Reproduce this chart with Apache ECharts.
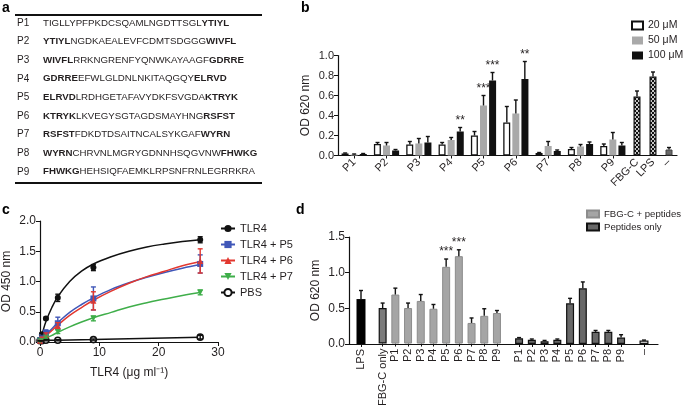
<!DOCTYPE html>
<html>
<head>
<meta charset="utf-8">
<script src="https://cdn.jsdelivr.net/npm/echarts@6/dist/echarts.min.js"></script>
<style>
html, body { margin: 0; padding: 0; background: #fff; }
#main { width: 685px; height: 409px; }
</style>
</head>
<body>
<div id="main"></div>
<script>
// ---------- data ----------
// panel a: peptide sequences as [bold head, plain middle, bold tail]
var peptideNames = ['P1', 'P2', 'P3', 'P4', 'P5', 'P6', 'P7', 'P8', 'P9'];
var peptideSeqs = [
    ['', 'TIGLLYPFPKDCSQAMLNGDTTSGL', 'YTIYL'],
    ['YTIYL', 'NGDKAEALEVFCDMTSDGGG', 'WIVFL'],
    ['WIVFL', 'RRKNGRENFYQNWKAYAAGF', 'GDRRE'],
    ['GDRRE', 'EFWLGLDNLNKITAQGQY', 'ELRVD'],
    ['ELRVD', 'LRDHGETAFAVYDKFSVGDA', 'KTRYK'],
    ['KTRYK', 'LKVEGYSGTAGDSMAYHNG', 'RSFST'],
    ['RSFST', 'FDKDTDSAITNCALSYKGAF', 'WYRN'],
    ['WYRN', 'CHRVNLMGRYGDNNHSQGVNW', 'FHWKG'],
    ['FHWKG', 'HEHSIQFAEMKLRPSNFRNLEGRRKRA', '']
];

// panel b: OD 620 nm by peptide and dose
var bCats = ['P1', 'P2', 'P3', 'P4', 'P5', 'P6', 'P7', 'P8', 'P9'];
var b20 = [0.02, 0.115, 0.11, 0.11, 0.20, 0.33, 0.025, 0.065, 0.095];
var b20Err = [0.005, 0.015, 0.03, 0.02, 0.04, 0.16, 0.005, 0.015, 0.02];
var b50 = [0.01, 0.10, 0.12, 0.155, 0.50, 0.42, 0.095, 0.09, 0.16];
var b50Err = [0.005, 0.03, 0.05, 0.025, 0.10, 0.135, 0.045, 0.02, 0.07];
var b100 = [0.015, 0.05, 0.13, 0.24, 0.75, 0.765, 0.045, 0.115, 0.10];
var b100Err = [0.005, 0.01, 0.06, 0.04, 0.08, 0.175, 0.01, 0.02, 0.03];
var bCtrlCats = ['FBG-C', 'LPS', '–'];
var bCtrl = [0.59, 0.79, 0.06];
var bCtrlErr = [0.055, 0.045, 0.02];
var bStars = [[3, 2, '**'], [4, 1, '***'], [4, 2, '***'], [5, 2, '**']]; // [peptide, dose, mark]

// panel c: binding curves
var cX = [0, 0.33, 1, 3, 9, 27];
var cTLR4 = [0.03, 0.13, 0.39, 0.73, 1.23, 1.69];
var cTLR4Err = [0.01, 0.02, 0.02, 0.06, 0.05, 0.05];
var cP5 = [0.03, 0.08, 0.15, 0.31, 0.72, 1.29];
var cP5Err = [0.01, 0.02, 0.05, 0.10, 0.19, 0.15];
var cP6 = [0.02, 0.06, 0.12, 0.27, 0.68, 1.34];
var cP6Err = [0.01, 0.02, 0.03, 0.05, 0.15, 0.20];
var cP7 = [0.02, 0.04, 0.08, 0.17, 0.39, 0.82];
var cP7Err = [0.01, 0.01, 0.02, 0.03, 0.04, 0.04];
var cPBS = [0.02, 0.02, 0.03, 0.03, 0.04, 0.08];
var cPBSErr = [0, 0, 0.01, 0.01, 0.01, 0.03];
// fitted curves
var fitX = [0, 0.5, 1, 2, 3, 5, 7, 9, 12, 15, 18, 21, 24, 27];
var fitTLR4 = [0, 0.18, 0.34, 0.57, 0.75, 1.0, 1.17, 1.29, 1.41, 1.5, 1.57, 1.62, 1.66, 1.69];
var fitP5 = [0, 0.06, 0.12, 0.22, 0.32, 0.49, 0.62, 0.73, 0.87, 0.98, 1.07, 1.15, 1.22, 1.28];
var fitP6 = [0, 0.05, 0.10, 0.19, 0.28, 0.44, 0.57, 0.69, 0.84, 0.97, 1.08, 1.17, 1.26, 1.33];
var fitP7 = [0, 0.03, 0.06, 0.11, 0.16, 0.25, 0.33, 0.40, 0.49, 0.58, 0.65, 0.71, 0.77, 0.82];

// panel d: OD 620 nm
var dLPS = 0.63, dLPSErr = 0.12;
var dFbgOnly = 0.50, dFbgOnlyErr = 0.07;
var dPepCats = ['P1', 'P2', 'P3', 'P4', 'P5', 'P6', 'P7', 'P8', 'P9'];
var dFbgPep = [0.69, 0.50, 0.60, 0.49, 1.08, 1.23, 0.29, 0.39, 0.43];
var dFbgPepErr = [0.09, 0.07, 0.09, 0.06, 0.11, 0.09, 0.07, 0.10, 0.035];
var dPepOnly = [0.08, 0.06, 0.04, 0.06, 0.57, 0.78, 0.17, 0.17, 0.09];
var dPepOnlyErr = [0.01, 0.01, 0.01, 0.01, 0.07, 0.09, 0.02, 0.02, 0.04];
var dNone = 0.05, dNoneErr = 0.005;
var dStars = [[4, '***'], [5, '***']]; // [peptide index, mark]

// ---------- helpers ----------
var FONT = '"Liberation Sans", Arial, sans-serif';
var TXT = '#231f20';
var chart = echarts.init(document.getElementById('main'));

// checkerboard fill for FBG-C / LPS bars
var pat = document.createElement('canvas');
pat.width = 4; pat.height = 4;
var pc = pat.getContext('2d');
pc.fillStyle = '#c8c8c8'; pc.fillRect(0, 0, 4, 4);
pc.fillStyle = '#111'; pc.fillRect(0, 0, 2, 2); pc.fillRect(2, 2, 2, 2);

function errSeries(xi, vals, errs, opt) {
    opt = opt || {};
    var dx = opt.dx || 0, w = opt.cap || 2, both = !!opt.both, col = opt.color || '#111';
    return {
        type: 'custom', xAxisIndex: xi, yAxisIndex: xi, z: 5, silent: true,
        data: vals.map(function (v, i) { return [opt.xs ? opt.xs[i] : i, v, errs[i]]; }),
        renderItem: function (params, api) {
            var x = api.value(0), y = api.value(1), e = api.value(2);
            var hi = api.coord([x, y + e]);
            var lo = api.coord([x, both ? y - e : y]);
            var cx = hi[0] + dx;
            var st = { stroke: col, lineWidth: 1.4 };
            var ch = [
                { type: 'line', shape: { x1: cx, y1: hi[1], x2: cx, y2: lo[1] }, style: st },
                { type: 'line', shape: { x1: cx - w, y1: hi[1], x2: cx + w, y2: hi[1] }, style: st }
            ];
            if (both) ch.push({ type: 'line', shape: { x1: cx - w, y1: lo[1], x2: cx + w, y2: lo[1] }, style: st });
            return { type: 'group', children: ch };
        }
    };
}

function starSeries(xi, items, dx) {
    return {
        type: 'custom', xAxisIndex: xi, yAxisIndex: xi, z: 6, silent: true,
        data: items.map(function (s) { return [s[0], s[1]]; }),
        renderItem: function (params, api) {
            var p = api.coord([api.value(0), api.value(1)]);
            return {
                type: 'text', x: p[0] + (dx ? dx(params.dataIndex) : 0), y: p[1] - 7,
                style: { text: items[params.dataIndex][2], align: 'center', verticalAlign: 'middle',
                         font: '12px ' + FONT, fill: TXT }
            };
        }
    };
}

var axisLine = { show: true, lineStyle: { color: '#111', width: 1.2 } };
var axisLabel = { color: TXT, fontFamily: FONT, fontSize: 11 };
function catAxis(grid, data, extra) {
    return Object.assign({
        type: 'category', gridIndex: grid, data: data,
        axisLine: axisLine,
        axisTick: { show: true, alignWithLabel: true, length: 3, lineStyle: { color: '#111' } },
        axisLabel: Object.assign({}, axisLabel, { margin: 5, interval: 0 }),
        splitLine: { show: false }
    }, extra || {});
}
function valAxis(grid, min, max, step, extra) {
    return Object.assign({
        type: 'value', gridIndex: grid, min: min, max: max, interval: step,
        axisLine: axisLine,
        axisTick: { show: true, length: 4, lineStyle: { color: '#111' } },
        axisLabel: Object.assign({}, axisLabel, { fontSize: 12, margin: 4,
            formatter: function (v) { return v.toFixed(1); } }),
        splitLine: { show: false },
        nameTextStyle: { color: TXT, fontFamily: FONT, fontSize: 12 }
    }, extra || {});
}
var hiddenY = function (g, max) { return { type: 'value', gridIndex: g, min: 0, max: max, show: false }; };

// ---------- panel a as graphic ----------
var graphics = [
    { type: 'line', shape: { x1: 15, y1: 15, x2: 262, y2: 15 }, style: { stroke: '#111', lineWidth: 2 } },
    { type: 'line', shape: { x1: 15, y1: 183, x2: 262, y2: 183 }, style: { stroke: '#111', lineWidth: 2 } }
];
peptideSeqs.forEach(function (s, i) {
    var y = 23 + i * 18.6;
    var txt = (s[0] ? '{b|' + s[0] + '}' : '') + '{n|' + s[1] + '}' + (s[2] ? '{b|' + s[2] + '}' : '');
    graphics.push({ type: 'text', x: 17, y: y,
        style: { text: peptideNames[i], font: '10px ' + FONT, fill: TXT, verticalAlign: 'middle' } });
    graphics.push({ type: 'text', x: 43, y: y,
        style: { text: txt, verticalAlign: 'middle', fill: TXT, font: '9.7px ' + FONT,
            rich: { b: { fontWeight: 'bold', fontSize: 9.7, fontFamily: FONT, fill: TXT },
                    n: { fontSize: 9.7, fontFamily: FONT, fill: TXT } } } });
});
[['a', 2, 8], ['b', 301, 8], ['c', 2, 210], ['d', 296, 210]].forEach(function (l) {
    graphics.push({ type: 'text', x: l[1], y: l[2],
        style: { text: l[0], font: 'bold 14px ' + FONT, fill: '#000', verticalAlign: 'middle' } });
});

// ---------- option ----------
var cColors = { TLR4: '#111', P5: '#4057b8', P6: '#e2372f', P7: '#3fae4a' };

function fitLine(name, ys, color, symbol, rot) {
    return {
        type: 'line', name: name, xAxisIndex: 2, yAxisIndex: 2, smooth: 0.4,
        data: fitX.map(function (x, i) { return [x, ys[i]]; }),
        showSymbol: false, symbol: symbol, symbolSize: 6, symbolRotate: rot || 0,
        lineStyle: { color: color, width: 1.5 }, itemStyle: { color: color }, z: 3
    };
}
function pts(ys, color, symbol, rot) {
    return {
        type: 'scatter', name: 'pts', xAxisIndex: 2, yAxisIndex: 2,
        data: cX.map(function (x, i) { return [x, ys[i]]; }),
        symbol: symbol, symbolSize: 6, symbolRotate: rot || 0,
        itemStyle: { color: color, opacity: 1 }, z: 4
    };
}

option = {
    animation: false,
    backgroundColor: '#fff',
    textStyle: { fontFamily: FONT },
    graphic: graphics,
    grid: [
        { left: 338, top: 55.5, width: 291, height: 100 },   // b peptides
        { left: 629, top: 55.5, width: 48, height: 100 },    // b controls
        { left: 40, top: 221, width: 178, height: 121 },     // c
        { left: 349, top: 237, width: 309, height: 107 },    // d frame
        { left: 349, top: 237, width: 24, height: 107 },     // d LPS
        { left: 376.3, top: 237, width: 127, height: 107 },  // d FBG-C
        { left: 512.7, top: 237, width: 114.75, height: 107 }, // d peptides only
        { left: 631, top: 237, width: 26, height: 107 }      // d none
    ],
    xAxis: [
        catAxis(0, bCats, { axisLabel: Object.assign({}, axisLabel, { rotate: 45, margin: 5, interval: 0 }) }),
        catAxis(1, bCtrlCats, { axisTick: { show: false },
            axisLabel: Object.assign({}, axisLabel, { rotate: 45, margin: 5, interval: 0 }) }),
        valAxis(2, 0, 30, 10, { name: 'TLR4 (μg ml⁻¹)', nameLocation: 'middle', nameGap: 25,
            axisLabel: Object.assign({}, axisLabel, { fontSize: 12, margin: 5 }) }),
        { type: 'value', gridIndex: 3, min: 0, max: 1, axisLine: axisLine, axisTick: { show: false },
          axisLabel: { show: false }, splitLine: { show: false } },
        catAxis(4, ['LPS'], { axisLine: { show: false },
            axisLabel: Object.assign({}, axisLabel, { rotate: 90, margin: 5 }) }),
        catAxis(5, ['FBG-C only'].concat(dPepCats), { axisLine: { show: false },
            axisLabel: Object.assign({}, axisLabel, { rotate: 90, margin: 5, interval: 0 }) }),
        catAxis(6, dPepCats, { axisLine: { show: false },
            axisLabel: Object.assign({}, axisLabel, { rotate: 90, margin: 5, interval: 0 }) }),
        catAxis(7, ['–'], { axisLine: { show: false },
            axisLabel: Object.assign({}, axisLabel, { rotate: 90, margin: 5 }) })
    ],
    yAxis: [
        valAxis(0, 0, 1, 0.2, { name: 'OD 620 nm', nameLocation: 'middle', nameGap: 26,
            axisLabel: Object.assign({}, axisLabel, { fontSize: 11, margin: 4,
                formatter: function (v) { return v.toFixed(1); } }) }),
        hiddenY(1, 1),
        valAxis(2, 0, 2, 0.5, { name: 'OD 450 nm', nameLocation: 'middle', nameGap: 27 }),
        valAxis(3, 0, 1.5, 0.5, { name: 'OD 620 nm', nameLocation: 'middle', nameGap: 27 }),
        hiddenY(4, 1.5), hiddenY(5, 1.5), hiddenY(6, 1.5), hiddenY(7, 1.5)
    ],
    legend: [
        { data: ['20 μM', '50 μM', '100 μM'], left: 631, top: 20, orient: 'vertical', padding: 0,
          itemWidth: 11, itemHeight: 8, itemGap: 4, icon: 'rect',
          textStyle: { fontFamily: FONT, fontSize: 10.5, color: TXT } },
        { data: ['TLR4', 'TLR4 + P5', 'TLR4 + P6', 'TLR4 + P7', 'PBS'], left: 220, top: 223,
          orient: 'vertical', padding: 0, itemWidth: 14, itemHeight: 9, itemGap: 5,
          textStyle: { fontFamily: FONT, fontSize: 11, color: TXT } },
        { data: ['FBG-C + peptides', 'Peptides only'], left: 586, top: 209, orient: 'vertical', padding: 0,
          itemWidth: 12, itemHeight: 7, itemGap: 3, icon: 'rect',
          textStyle: { fontFamily: FONT, fontSize: 9.6, color: TXT } }
    ],
    series: [
        // ---- b ----
        { type: 'bar', name: '20 μM', xAxisIndex: 0, yAxisIndex: 0, data: b20, barWidth: 7, barGap: '30%',
          itemStyle: { color: '#fff', borderColor: '#111', borderWidth: 1.3 } },
        { type: 'bar', name: '50 μM', xAxisIndex: 0, yAxisIndex: 0, data: b50, barWidth: 7, barGap: '30%',
          itemStyle: { color: '#a9a9a9' } },
        { type: 'bar', name: '100 μM', xAxisIndex: 0, yAxisIndex: 0, data: b100, barWidth: 7, barGap: '30%',
          itemStyle: { color: '#111' } },
        errSeries(0, b20, b20Err, { dx: -9 }),
        errSeries(0, b50, b50Err, { dx: 0 }),
        errSeries(0, b100, b100Err, { dx: 9 }),
        starSeries(0, bStars.map(function (s) {
            var v = [b20, b50, b100][s[1]][s[0]] + [b20Err, b50Err, b100Err][s[1]][s[0]];
            return [s[0], v, s[2]];
        }), function (i) { return (bStars[i][1] - 1) * 9; }),
        { type: 'bar', name: 'ctrl', xAxisIndex: 1, yAxisIndex: 1, barWidth: 7,
          data: bCtrl.map(function (v, i) {
              return { value: v, itemStyle: i < 2
                  ? { color: { image: pat, repeat: 'repeat' }, borderColor: '#111', borderWidth: 1.2 }
                  : { color: '#6a6a6a', borderColor: '#444', borderWidth: 1 } };
          }) },
        errSeries(1, bCtrl, bCtrlErr, {}),

        // ---- c ----
        fitLine('TLR4', fitTLR4, cColors.TLR4, 'circle'),
        fitLine('TLR4 + P5', fitP5, cColors.P5, 'rect'),
        fitLine('TLR4 + P6', fitP6, cColors.P6, 'triangle'),
        fitLine('TLR4 + P7', fitP7, cColors.P7, 'triangle', 180),
        { type: 'line', name: 'PBS', xAxisIndex: 2, yAxisIndex: 2,
          data: cX.map(function (x, i) { return [x, cPBS[i]]; }),
          symbol: 'circle', symbolSize: 6, showSymbol: true,
          lineStyle: { color: '#111', width: 1.5 },
          itemStyle: { color: '#fff', borderColor: '#111', borderWidth: 1.6 }, z: 4 },
        pts(cTLR4, cColors.TLR4, 'circle'),
        pts(cP5, cColors.P5, 'rect'),
        pts(cP6, cColors.P6, 'triangle'),
        pts(cP7, cColors.P7, 'triangle', 180),
        errSeries(2, cTLR4, cTLR4Err, { xs: cX, both: true, cap: 2.5, color: cColors.TLR4 }),
        errSeries(2, cP5, cP5Err, { xs: cX, both: true, cap: 2.5, color: cColors.P5 }),
        errSeries(2, cP6, cP6Err, { xs: cX, both: true, cap: 2.5, color: cColors.P6 }),
        errSeries(2, cP7, cP7Err, { xs: cX, both: true, cap: 2.5, color: cColors.P7 }),
        errSeries(2, cPBS, cPBSErr, { xs: cX, both: true, cap: 2.5, color: '#111' }),

        // ---- d ----
        { type: 'bar', name: 'LPS', xAxisIndex: 4, yAxisIndex: 4, data: [dLPS], barWidth: 9,
          itemStyle: { color: '#000' } },
        errSeries(4, [dLPS], [dLPSErr], {}),
        { type: 'bar', name: 'FBG-C only', xAxisIndex: 5, yAxisIndex: 5, stack: 'fbg', barWidth: 8,
          data: [dFbgOnly].concat(dPepCats.map(function () { return '-'; })),
          itemStyle: { color: '#7b7b7b', borderColor: '#111', borderWidth: 1.2 } },
        { type: 'bar', name: 'FBG-C + peptides', xAxisIndex: 5, yAxisIndex: 5, stack: 'fbg', barWidth: 8,
          data: ['-'].concat(dFbgPep),
          itemStyle: { color: '#a5a5a5', borderColor: '#8c8c8c', borderWidth: 1 } },
        errSeries(5, [dFbgOnly].concat(dFbgPep), [dFbgOnlyErr].concat(dFbgPepErr), {}),
        starSeries(5, dStars.map(function (s) {
            return [s[0] + 1, dFbgPep[s[0]] + dFbgPepErr[s[0]], s[1]];
        })),
        { type: 'bar', name: 'Peptides only', xAxisIndex: 6, yAxisIndex: 6, data: dPepOnly, barWidth: 8,
          itemStyle: { color: '#686868', borderColor: '#111', borderWidth: 1.2 } },
        errSeries(6, dPepOnly, dPepOnlyErr, {}),
        { type: 'bar', name: 'none', xAxisIndex: 7, yAxisIndex: 7, data: [dNone], barWidth: 9,
          itemStyle: { color: '#fff', borderColor: '#111', borderWidth: 1.2 } },
        errSeries(7, [dNone], [dNoneErr], {})
    ]
};
chart.setOption(option);
</script>
</body>
</html>
